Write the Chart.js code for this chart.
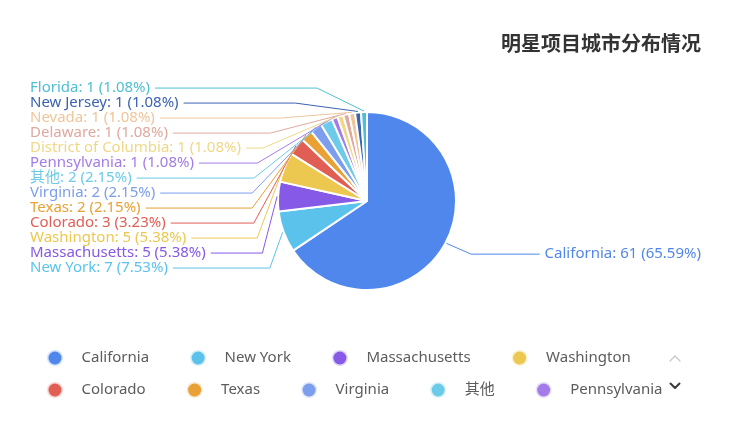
<!DOCTYPE html>
<html>
<head>
<meta charset="utf-8">
<script src="https://cdn.jsdelivr.net/npm/chart.js@4.4.0/dist/chart.umd.min.js"></script>
<style>
html,body{margin:0;padding:0;background:#ffffff;}
#wrap{width:731px;height:442px;position:relative;}
</style>
</head>
<body>
<div id="wrap"><canvas id="c" width="731" height="442"></canvas></div>
<script>
// ---- data ----
const categories = ['California','New York','Massachusetts','Washington','Colorado','Texas','Virginia','其他','Pennsylvania','District of Columbia','Delaware','Nevada','New Jersey','Florida'];
const counts = [61, 7, 5, 5, 3, 2, 2, 2, 1, 1, 1, 1, 1, 1];
const sliceColors = ['#5087ec','#5bc3eb','#8659e6','#ecc850','#e15e54','#e9a035','#7d9ded','#6ccbe9','#a47ce8','#eed887','#e0a9a0','#eec69a','#3b62b3','#4fbfd2'];
const chartTitle = '明星项目城市分布情况';

const LABEL_FONT = '15px "Noto Sans", "Noto Sans CJK SC", sans-serif';
const LEGEND_FONT = '15px "Noto Sans", "Noto Sans CJK SC", sans-serif';

function pct(v) {
  const total = counts.reduce((a, b) => a + b, 0);
  return (v / total * 100).toFixed(2);
}

// label collision handling: sort by natural position, push overlapping labels down
function adjustSide(list) {
  list.sort((a, b) => a.y - b.y);
  let lastPos = -Infinity;
  for (let i = 0; i < list.length; i++) {
    if (list[i].y < lastPos) list[i].y = lastPos;
    lastPos = list[i].y + list[i].h;
  }
}

const pieLabels = {
  id: 'pieLabels',
  afterDatasetsDraw(chart) {
    const ctx = chart.ctx;
    const meta = chart.getDatasetMeta(0);
    const W = chart.width;
    const edge = 30, gap = 5, lineH = 15, len = 23;
    ctx.save();
    ctx.font = LABEL_FONT;
    const items = meta.data.map((arc, i) => {
      const p = arc.getProps(['x', 'y', 'startAngle', 'endAngle', 'outerRadius'], true);
      const mid = (p.startAngle + p.endAngle) / 2;
      const c = Math.cos(mid), s = Math.sin(mid);
      const r = p.outerRadius + 1;
      const yc = p.y + s * (r + len);
      return {
        i, cx: p.x, cy: p.y, r,
        sx: p.x + c * r, sy: p.y + s * r,
        left: c < 0,
        y: yc - lineH / 2, h: lineH,
        text: categories[i] + ': ' + counts[i] + ' (' + pct(counts[i]) + '%)'
      };
    });
    adjustSide(items.filter(d => d.left));
    adjustSide(items.filter(d => !d.left));
    items.forEach(d => {
      const yc = d.y + d.h / 2;
      const rA = d.r + 25, rB = rA * 1.09;
      const dy = Math.abs(yc - d.cy);
      const dx = dy < rB ? rA * Math.sqrt(1 - dy * dy / (rB * rB)) : 0;
      const tw = ctx.measureText(d.text).width;
      const color = sliceColors[d.i];
      let kneeX, endX, textX, align;
      if (d.left) {
        kneeX = Math.min(d.cx - dx, d.sx);
        textX = edge;
        endX = edge + tw + gap;
        align = 'left';
      } else {
        kneeX = Math.max(d.cx + dx, d.sx);
        textX = W - edge;
        endX = W - edge - tw - gap;
        align = 'right';
      }
      ctx.strokeStyle = color;
      ctx.lineWidth = 1;
      ctx.beginPath();
      ctx.moveTo(d.sx, d.sy);
      ctx.lineTo(kneeX, yc);
      ctx.lineTo(endX, yc);
      ctx.stroke();
      ctx.fillStyle = color;
      ctx.textAlign = align;
      ctx.textBaseline = 'middle';
      ctx.fillText(d.text, textX, yc);
    });
    ctx.restore();
  }
};

const decorations = {
  id: 'decorations',
  afterDraw(chart) {
    const ctx = chart.ctx;
    ctx.save();
    // title
    ctx.font = 'bold 20px "Noto Sans CJK SC", sans-serif';
    ctx.fillStyle = '#333333';
    ctx.textAlign = 'right';
    ctx.textBaseline = 'middle';
    ctx.fillText(chartTitle, chart.width - 30, 43);

    // legend (paged, first page)
    ctx.font = LEGEND_FONT;
    const startX = 55, rowY = [358, 390], limit = 668;
    let row = 0, cxm = startX;
    for (let i = 0; i < categories.length; i++) {
      const w = ctx.measureText(categories[i]).width;
      let tx = cxm + 26.5;
      if (tx + w > limit) {
        row++;
        if (row >= rowY.length) break;
        cxm = startX;
        tx = cxm + 26.5;
      }
      const y = rowY[row];
      ctx.beginPath();
      ctx.arc(cxm, y, 8, 0, Math.PI * 2);
      ctx.fillStyle = sliceColors[i] + '40';
      ctx.fill();
      ctx.beginPath();
      ctx.arc(cxm, y, 6.5, 0, Math.PI * 2);
      ctx.fillStyle = sliceColors[i];
      ctx.fill();
      ctx.fillStyle = '#5c5c5c';
      ctx.textAlign = 'left';
      ctx.textBaseline = 'middle';
      ctx.fillText(categories[i], tx, y);
      cxm = tx + w + 49;
    }
    // page arrows
    ctx.lineCap = 'round';
    ctx.lineJoin = 'round';
    ctx.strokeStyle = '#c8c8c8';
    ctx.lineWidth = 1.3;
    ctx.beginPath();
    ctx.moveTo(670, 361); ctx.lineTo(675, 356); ctx.lineTo(680, 361);
    ctx.stroke();
    ctx.strokeStyle = '#3a3a3a';
    ctx.lineWidth = 2;
    ctx.beginPath();
    ctx.moveTo(670.5, 383.5); ctx.lineTo(675, 388); ctx.lineTo(679.5, 383.5);
    ctx.stroke();
    ctx.restore();
  }
};

new Chart(document.getElementById('c'), {
  type: 'pie',
  data: {
    labels: categories,
    datasets: [{
      data: counts,
      backgroundColor: sliceColors,
      borderColor: '#ffffff',
      borderWidth: 2
    }]
  },
  options: {
    responsive: false,
    animation: false,
    layout: { padding: { top: 111, bottom: 151, left: 277, right: 274 } },
    plugins: {
      legend: { display: false },
      tooltip: { enabled: false },
      title: { display: false }
    }
  },
  plugins: [pieLabels, decorations]
});
</script>
</body>
</html>
